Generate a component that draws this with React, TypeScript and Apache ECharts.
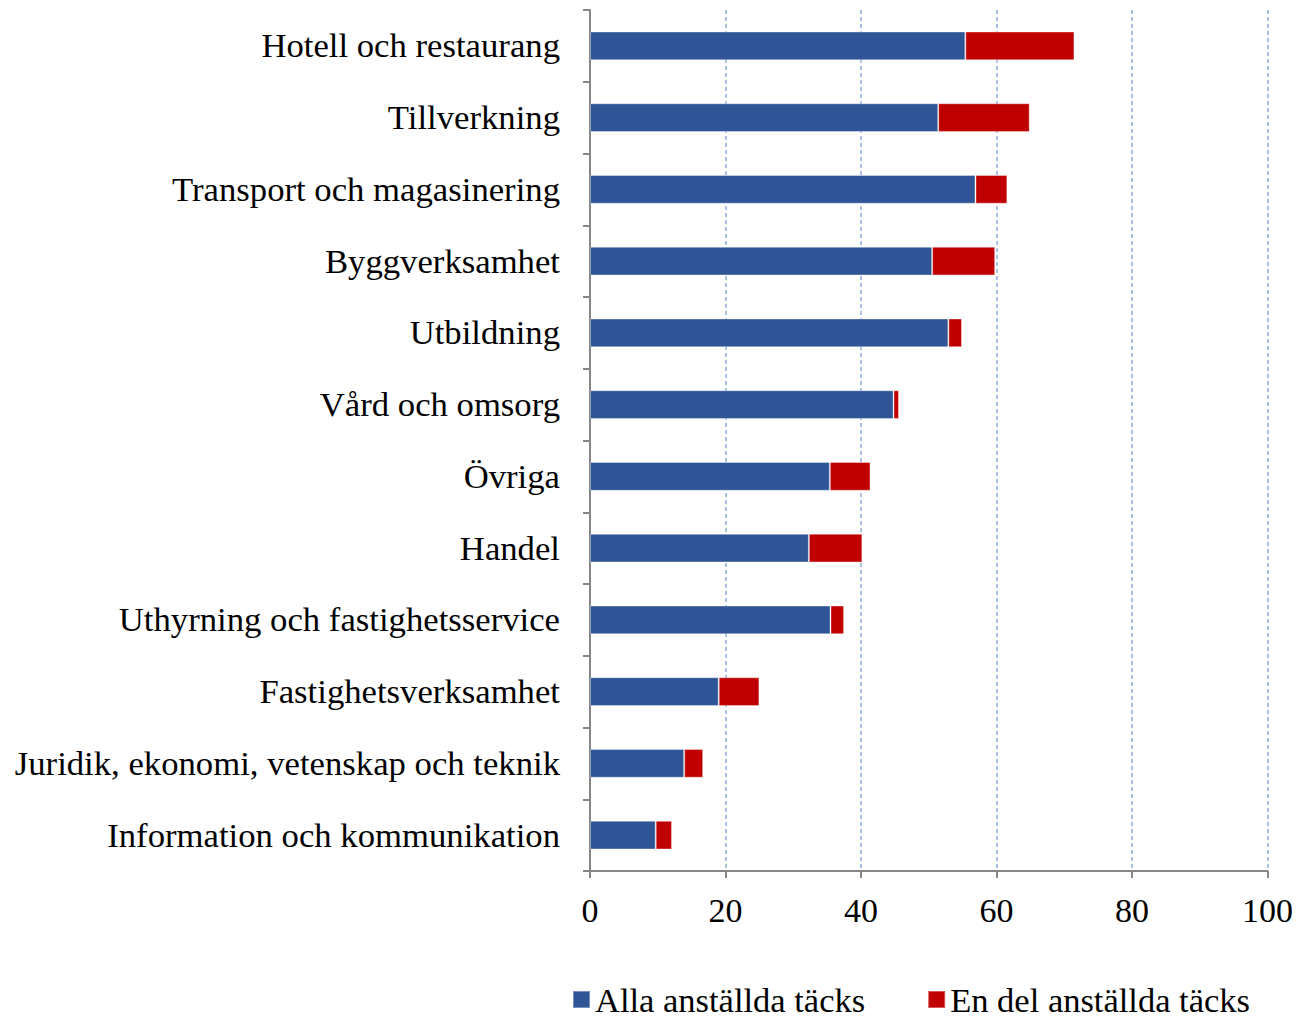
import React, { useEffect, useRef } from "react";
import * as echarts from "echarts";

const categories = [
  "Hotell och restaurang",
  "Tillverkning",
  "Transport och magasinering",
  "Byggverksamhet",
  "Utbildning",
  "Vård och omsorg",
  "Övriga",
  "Handel",
  "Uthyrning och fastighetsservice",
  "Fastighetsverksamhet",
  "Juridik, ekonomi, vetenskap och teknik",
  "Information och kommunikation",
];
const allaValues = [55.4, 51.4, 56.9, 50.5, 52.9, 44.8, 35.4, 32.3, 35.5, 19.0, 13.9, 9.7];
const delValues = [16.1, 13.5, 4.7, 9.3, 2.0, 0.8, 6.0, 7.9, 2.0, 6.0, 2.8, 2.4];
const seriesNames = ["Alla anställda täcks", "En del anställda täcks"];
const xTicks = [0, 20, 40, 60, 80, 100];

const FONT = "'Liberation Serif', 'Times New Roman', serif";

export default function App() {
  const ref = useRef<HTMLDivElement>(null);
  useEffect(() => {
    if (!ref.current) return;
    const chart = echarts.init(ref.current, null, { renderer: "svg" });
    chart.setOption({
      animation: false,
      backgroundColor: "#ffffff",
      grid: { left: 590, right: 28, top: 10, bottom: 147, containLabel: false },
      legend: {
        data: seriesNames,
        left: 572,
        top: 982,
        padding: 0,
        itemWidth: 17,
        itemHeight: 17,
        itemGap: 62,
        icon: "rect",
        textStyle: { fontFamily: FONT, fontSize: 34.5, lineHeight: 30, color: "#000" },
      },
      xAxis: {
        type: "value",
        min: xTicks[0],
        max: xTicks[xTicks.length - 1],
        interval: 20,
        axisLine: { show: true, onZero: false, lineStyle: { color: "#868686", width: 2 } },
        axisTick: { show: true, length: 7, lineStyle: { color: "#868686", width: 2 } },
        axisLabel: { fontFamily: FONT, fontSize: 34, color: "#000", margin: 22 },
        splitLine: { show: true, lineStyle: { color: "#8FB0DC", type: [4, 3], width: 1.5 } },
      },
      yAxis: {
        type: "category",
        data: categories,
        inverse: true,
        axisLine: { show: true, lineStyle: { color: "#868686", width: 2 } },
        axisTick: { show: true, length: 7, alignWithLabel: false, lineStyle: { color: "#868686", width: 2 } },
        axisLabel: { fontFamily: FONT, fontSize: 34.7, color: "#000", margin: 30 },
        splitLine: { show: false },
      },
      series: [
        {
          name: seriesNames[0],
          type: "bar",
          stack: "total",
          data: allaValues,
          barWidth: "40%",
          itemStyle: { color: "#2F5597", borderColor: "rgba(255,255,255,0.35)", borderWidth: 1 },
        },
        {
          name: seriesNames[1],
          type: "bar",
          stack: "total",
          data: delValues,
          barWidth: "40%",
          itemStyle: { color: "#C00000", borderColor: "rgba(255,255,255,0.35)", borderWidth: 1 },
        },
      ],
    });
    return () => chart.dispose();
  }, []);
  return (
    <div
      ref={ref}
      style={{ position: "absolute", left: 0, top: 0, width: 1296, height: 1018, overflow: "hidden" }}
    />
  );
}
